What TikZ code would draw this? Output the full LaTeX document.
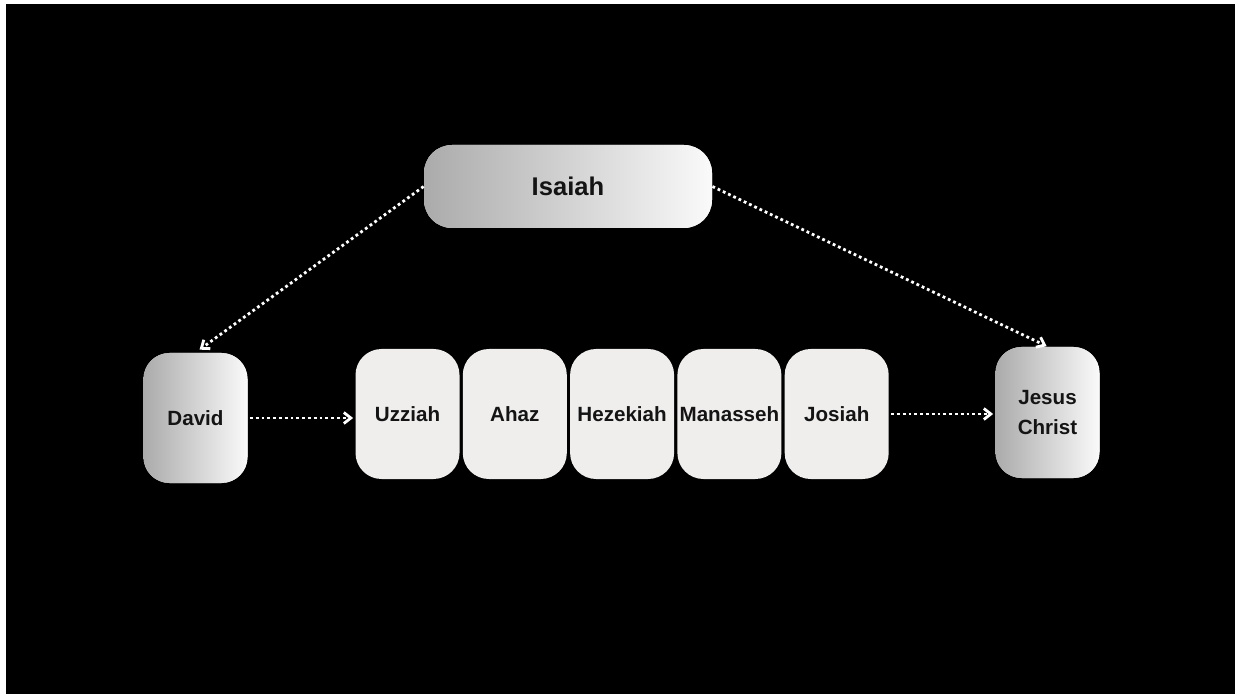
\documentclass[tikz,border=0pt]{standalone}
\usepackage{fontspec}
\setmainfont{Liberation Sans}
\usepackage{tikz}
\usetikzlibrary{positioning,arrows.meta}

\definecolor{kingfill}{RGB}{239,238,237}
\definecolor{ink}{RGB}{20,20,20}

\begin{document}
\begin{tikzpicture}[x=0.5pt,y=-0.5pt,->,>={Straight Barb[length=3.5pt,width=5.5pt]},
    dotline/.style={white,line width=1.4pt,dash pattern=on 1.4pt off 1.5pt},
    king/.style={fill=kingfill,rounded corners=13pt,minimum width=52pt,minimum height=65pt,
      inner xsep=1pt,text=ink,font=\bfseries\fontsize{10.3}{15}\selectfont,align=center},
    prophet/.style={king,left color=black!33,right color=white!98!black},
    seer/.style={prophet,minimum width=144pt,minimum height=41.5pt,rounded corners=14pt,
      font=\bfseries\fontsize{12.8}{15}\selectfont}]
  \useasboundingbox (0,0) rectangle (1235,694);
  \fill[white] (0,0) rectangle (1235,694);
  \fill[black] (6,4) rectangle (1235,694);

  \node[seer]    (isaiah) at (568,186.5) {Isaiah};
  \node[prophet] (david)  at (195.5,418) {David};
  \node[king]    (uzziah) at (407.5,414) {Uzziah};
  \node[king]    (ahaz)     [right=1.25pt of uzziah]   {Ahaz};
  \node[king]    (hezekiah) [right=1.25pt of ahaz]     {Hezekiah};
  \node[king]    (manasseh) [right=1.25pt of hezekiah] {Manasseh};
  \node[king]    (josiah)   [right=1.25pt of manasseh] {Josiah};
  \node[prophet,minimum height=65.5pt] (jesus) at (1047.5,412.5) {Jesus\\Christ};

  \draw[dotline,shorten >=2.5pt] (isaiah.west) -- (david.north);
  \draw[dotline,shorten >=0.5pt] (isaiah.east) -- (jesus.north);
  \draw[dotline,shorten <=1pt,shorten >=1pt] (david.east) -- (david.east -| uzziah.west);
  \draw[dotline,shorten <=1pt,shorten >=1pt] (josiah.east) -- (josiah.east -| jesus.west);
\end{tikzpicture}
\end{document}
